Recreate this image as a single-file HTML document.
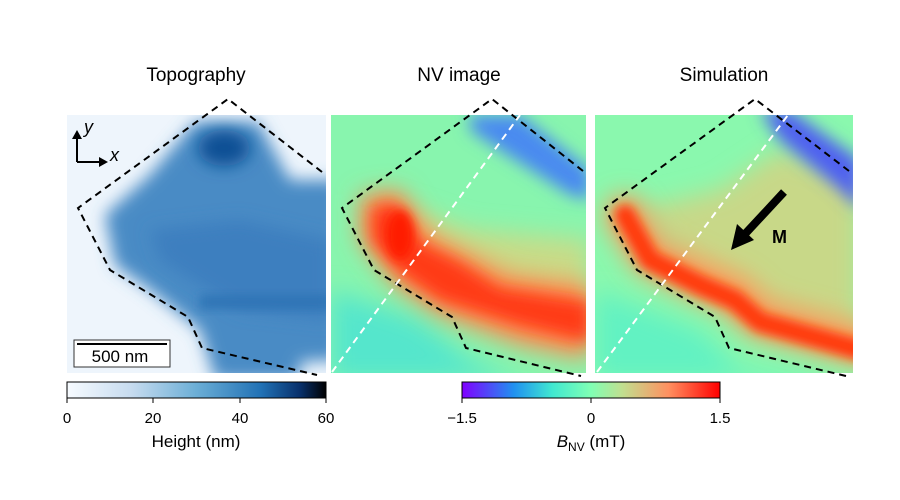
<!DOCTYPE html>
<html><head><meta charset="utf-8"><style>
body{margin:0;background:#fff;}
svg{display:block;font-family:"Liberation Sans","DejaVu Sans",sans-serif;}
</style></head><body>
<svg width="900" height="500" viewBox="0 0 900 500" xmlns="http://www.w3.org/2000/svg">
<defs>
<clipPath id="c1"><rect x="67" y="115" width="259" height="258"/></clipPath>
<clipPath id="c2"><rect x="331" y="115" width="255" height="258"/></clipPath>
<clipPath id="c3"><rect x="595" y="115" width="258" height="258"/></clipPath>
<filter id="b8" x="-50%" y="-50%" width="200%" height="200%"><feGaussianBlur stdDeviation="8"/></filter>
<filter id="b12" x="-50%" y="-50%" width="200%" height="200%"><feGaussianBlur stdDeviation="12"/></filter>
<filter id="b5" x="-50%" y="-50%" width="200%" height="200%"><feGaussianBlur stdDeviation="5"/></filter>
<linearGradient id="gb" x1="0" x2="1"><stop offset="0" stop-color="#f7fbff"/><stop offset="0.25" stop-color="#c6dbef"/><stop offset="0.5" stop-color="#6baed6"/><stop offset="0.75" stop-color="#2171b5"/><stop offset="0.9" stop-color="#08306b"/><stop offset="1" stop-color="#000"/></linearGradient>
<linearGradient id="gr" x1="0" x2="1"><stop offset="0" stop-color="#8000ff"/><stop offset="0.2" stop-color="#2090f0"/><stop offset="0.35" stop-color="#40e8d0"/><stop offset="0.5" stop-color="#80ffb4"/><stop offset="0.62" stop-color="#c0e090"/><stop offset="0.8" stop-color="#ff9060"/><stop offset="1" stop-color="#ff0000"/></linearGradient>
</defs>

<text x="196" y="81" font-size="19" text-anchor="middle">Topography</text>
<text x="459" y="81" font-size="19" text-anchor="middle">NV image</text>
<text x="724" y="81" font-size="19" text-anchor="middle">Simulation</text>

<!-- Panel 1 -->
<g clip-path="url(#c1)">
<rect x="67" y="115" width="259" height="258" fill="#eef5fc"/>
<polygon filter="url(#b8)" fill="#4a8bc5" points="195,122 258,122 290,180 340,180 340,360 300,362 300,380 215,380 200,330 150,290 115,265 105,215 150,175"/>
<polygon filter="url(#b8)" fill="#3c7fbf" points="150,230 240,220 330,240 330,320 240,310 160,260"/>
<ellipse cx="224" cy="148" rx="26" ry="18" fill="#0d4f94" filter="url(#b8)"/>
<rect x="200" y="295" width="130" height="14" fill="#2f74b6" filter="url(#b5)"/>
</g>
<g stroke="#000" stroke-width="2" fill="none">
<path d="M77,162 L77,134"/><path d="M77,162 L104,162"/>
</g>
<polygon points="77,130 72,139 82,139" fill="#000"/>
<polygon points="108,162 99,157 99,167" fill="#000"/>
<text x="84" y="133" font-size="18" font-style="italic">y</text>
<text x="110" y="161" font-size="18" font-style="italic">x</text>
<rect x="74" y="340" width="96" height="27" fill="#fff" stroke="#333" stroke-width="1"/>
<line x1="77" y1="344" x2="167" y2="344" stroke="#000" stroke-width="2"/>
<text x="120" y="362" font-size="17" text-anchor="middle">500 nm</text>
<polyline points="322,172 228,99 78,208 110,270 188,317 202,348 317,375" fill="none" stroke="#000" stroke-width="2" stroke-dasharray="7,5"/>

<!-- Panel 2 -->
<g clip-path="url(#c2)">
<rect x="331" y="115" width="255" height="258" fill="#88f5ae"/>
<polygon filter="url(#b12)" fill="#55e6cc" points="331,290 420,320 470,360 520,380 331,380"/>
<polygon filter="url(#b12)" fill="#c8dc88" points="380,200 470,230 590,240 590,330 480,300 400,260"/>
<polygon filter="url(#b8)" fill="#4a8af0" points="470,115 520,115 590,170 590,200 570,195 500,150 470,130"/>
<polygon filter="url(#b12)" fill="#ff8a50" points="360,195 400,190 430,235 470,255 510,275 590,285 590,360 520,345 440,315 395,285 360,240"/>
<polygon filter="url(#b8)" fill="#ff3a18" points="372,208 395,203 420,242 460,262 500,288 590,302 590,342 520,325 440,300 400,272 372,240"/>
<ellipse cx="400" cy="235" rx="14" ry="25" fill="#ff1a00" filter="url(#b5)"/>
</g>
<polyline points="583,171 492,99 342,208 374,270 452,317 466,348 581,376" fill="none" stroke="#000" stroke-width="2" stroke-dasharray="7,5"/>
<line x1="332" y1="372" x2="520" y2="115" stroke="#fff" stroke-width="2" stroke-dasharray="7,5"/>

<!-- Panel 3 -->
<g clip-path="url(#c3)">
<rect x="595" y="115" width="258" height="258" fill="#8af8ae"/>
<polygon filter="url(#b12)" fill="#62f2c2" points="595,290 700,330 740,370 850,380 595,380"/>
<polygon filter="url(#b12)" fill="#c8d888" points="640,210 720,190 780,150 860,180 860,340 760,310 700,280"/>
<polygon filter="url(#b8)" fill="#5060f0" points="760,110 790,110 860,160 860,210 840,190 780,140"/>
<polyline filter="url(#b12)" fill="none" stroke="#ff9a58" stroke-width="40" stroke-linecap="round" points="625,215 650,255 700,280 735,295 760,318 860,345"/>
<polyline filter="url(#b5)" fill="none" stroke="#ff3a10" stroke-width="20" stroke-linecap="round" points="625,215 650,260 700,285 735,300 760,322 860,350"/>
</g>
<polyline points="849,171 755,99 605,208 637,270 715,317 729,348 846,376" fill="none" stroke="#000" stroke-width="2" stroke-dasharray="7,5"/>
<line x1="597" y1="372" x2="788" y2="115" stroke="#fff" stroke-width="2" stroke-dasharray="7,5"/>
<line x1="784" y1="192" x2="745" y2="234" stroke="#000" stroke-width="8"/>
<polygon points="731,250 737,224 754,240" fill="#000"/>
<text x="772" y="243" font-size="18" font-weight="bold">M</text>

<!-- Colorbars -->
<rect x="67" y="382" width="259" height="16" fill="url(#gb)" stroke="#000" stroke-width="1"/>
<g stroke="#000" stroke-width="1"><line x1="67" y1="398" x2="67" y2="403"/><line x1="153" y1="398" x2="153" y2="403"/><line x1="240" y1="398" x2="240" y2="403"/><line x1="326" y1="398" x2="326" y2="403"/></g>
<g font-size="15" text-anchor="middle"><text x="67" y="423">0</text><text x="153" y="423">20</text><text x="240" y="423">40</text><text x="326" y="423">60</text></g>
<text x="196" y="447" font-size="17" text-anchor="middle">Height (nm)</text>

<rect x="462" y="382" width="258" height="16" fill="url(#gr)" stroke="#000" stroke-width="1"/>
<g stroke="#000" stroke-width="1"><line x1="462" y1="398" x2="462" y2="403"/><line x1="591" y1="398" x2="591" y2="403"/><line x1="720" y1="398" x2="720" y2="403"/></g>
<g font-size="15" text-anchor="middle"><text x="462" y="423">−1.5</text><text x="591" y="423">0</text><text x="720" y="423">1.5</text></g>
<text x="591" y="447" font-size="17" text-anchor="middle"><tspan font-style="italic">B</tspan><tspan font-size="12" dy="4">NV</tspan><tspan dy="-4"> (mT)</tspan></text>
</svg>
</body></html>
